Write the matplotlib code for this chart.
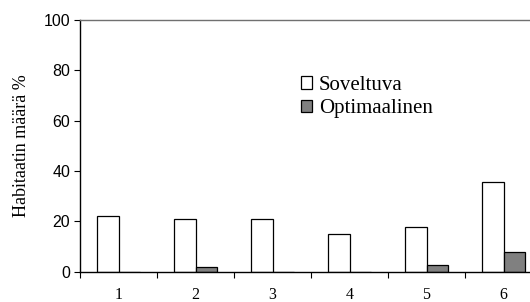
import numpy as np
import matplotlib
matplotlib.use("Agg")
import matplotlib.pyplot as plt
from matplotlib.ticker import FixedLocator

# Data
categories = ["1", "2", "3", "4", "5", "6"]
soveltuva = [22.2, 20.9, 20.9, 15.0, 17.8, 35.5]
optimaalinen = [0.0, 2.0, 0.0, 0.0, 2.5, 7.8]
y_ticks = [0, 20, 40, 60, 80, 100]

SERIF = "Liberation Serif"
SANS = "Liberation Sans"

W, H = 530, 302
fig = plt.figure(figsize=(W / 100, H / 100), dpi=100)
# axes run past the right edge of the figure, as in the reference crop
left, right = 80 / W, 542 / W
bottom, top = (H - 271.7) / H, (H - 20) / H
ax = fig.add_axes([left, bottom, right - left, top - bottom])

x = np.arange(1, len(categories) + 1)
bw = 0.285
ax.bar(x - bw / 2, soveltuva, bw, color="white", edgecolor="black",
       linewidth=0.9, label="Soveltuva", zorder=3)
ax.bar(x + bw / 2, optimaalinen, bw, color="#808080", edgecolor="black",
       linewidth=0.9, label="Optimaalinen", zorder=3)

ax.set_xlim(0.5, len(categories) + 0.5)
ax.set_ylim(0, 100)

ax.spines["right"].set_visible(False)
ax.spines["top"].set_color("#707070")
ax.spines["top"].set_linewidth(1.0)
ax.spines["left"].set_linewidth(1.0)
ax.spines["bottom"].set_linewidth(1.0)
ax.spines["bottom"].set_zorder(4)

ax.set_yticks(y_ticks)
ax.set_yticklabels([str(v) for v in y_ticks], fontfamily=SANS, fontsize=11.5)
ax.tick_params(axis="y", direction="out", length=4, width=0.8, pad=3)

ax.set_xticks(x)
ax.set_xticklabels(categories, fontfamily=SERIF, fontsize=11.5)
ax.xaxis.set_minor_locator(FixedLocator(np.arange(0.5, len(categories) + 1, 1.0)))
ax.tick_params(axis="x", which="major", length=0, pad=11)
ax.tick_params(axis="x", which="minor", direction="out", length=4, width=0.8)

ax.set_ylabel("Habitaatin määrä %", fontfamily=SERIF, fontsize=13, labelpad=10)

ax.legend(loc="upper left", bbox_to_anchor=(301 / W, 1 - 76 / H),
          bbox_transform=fig.transFigure, frameon=False,
          prop={"family": SERIF, "size": 15},
          handlelength=0.55, handleheight=0.55, handletextpad=0.3,
          labelspacing=0.2, borderpad=0, borderaxespad=0)

fig.savefig("out.png", dpi=100)
